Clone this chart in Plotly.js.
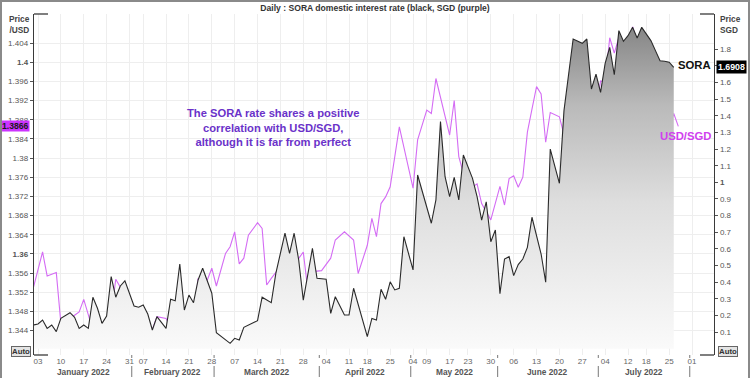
<!DOCTYPE html>
<html><head><meta charset="utf-8">
<script src="https://cdn.plot.ly/plotly-3.0.1.min.js"></script>
<style>
html,body{margin:0;padding:0;background:#fff;}
#wrap{position:relative;width:750px;height:378px;overflow:hidden;}
#chart{width:750px;height:378px;}
#frame{position:absolute;left:0;top:0;width:750px;height:378px;box-sizing:border-box;border-left:2px solid #8a8a8a;border-top:2px solid #8a8a8a;border-right:2px solid #8a8a8a;pointer-events:none;}
</style></head><body>
<div id="wrap"><div id="chart"></div><div id="frame"></div></div>
<script>
// Singapore market holidays (non-trading days skipped on the axis)
const holidays = ['2022-02-01','2022-02-02','2022-04-15','2022-05-02','2022-05-03','2022-05-16','2022-07-11'];

// USD/SGD (left axis, purple)
const usdSgdDates = ['2021-12-31',
'2022-01-04','2022-01-05','2022-01-07','2022-01-10','2022-01-11','2022-01-13','2022-01-14','2022-01-17','2022-01-18','2022-01-19','2022-01-21','2022-01-24','2022-01-25','2022-01-26','2022-01-28','2022-01-31',
'2022-02-03','2022-02-07','2022-02-08','2022-02-10','2022-02-14','2022-02-16','2022-02-17','2022-02-21','2022-02-22','2022-02-23','2022-02-24','2022-02-25','2022-02-28',
'2022-03-01','2022-03-03','2022-03-04','2022-03-07','2022-03-08','2022-03-09','2022-03-10','2022-03-14','2022-03-15','2022-03-16','2022-03-17','2022-03-21','2022-03-22','2022-03-24','2022-03-28','2022-03-29','2022-03-30',
'2022-04-01','2022-04-05','2022-04-06','2022-04-08','2022-04-12','2022-04-13','2022-04-18','2022-04-19','2022-04-20','2022-04-21','2022-04-22','2022-04-25','2022-04-27',
'2022-05-04','2022-05-05','2022-05-09','2022-05-10','2022-05-11','2022-05-17','2022-05-18','2022-05-19','2022-05-23','2022-05-25','2022-05-26','2022-05-30',
'2022-06-01','2022-06-02','2022-06-03','2022-06-06','2022-06-07','2022-06-08','2022-06-09','2022-06-10','2022-06-13','2022-06-14','2022-06-15','2022-06-16','2022-06-20','2022-06-21','2022-06-22','2022-06-23','2022-06-27','2022-06-28','2022-06-29','2022-06-30',
'2022-07-01','2022-07-04','2022-07-05','2022-07-06','2022-07-07','2022-07-08','2022-07-12','2022-07-13','2022-07-14','2022-07-15','2022-07-18','2022-07-19','2022-07-20','2022-07-21','2022-07-25','2022-07-26','2022-07-27'];
const usdSgdValues = [1.3530,
1.3604,1.3554,1.3561,1.3455,1.3458,1.3472,1.3479,1.3505,1.3472,1.3441,1.3453,1.3442,1.3472,1.3547,1.3514,1.3437,
1.3455,1.3441,1.3414,1.3469,1.3465,1.3430,1.3455,1.3456,1.3451,1.3549,1.3531,1.3545,1.3570,
1.3533,1.3601,1.3615,1.3646,1.3579,1.3591,1.3639,1.3665,1.3653,1.3535,1.3549,1.3574,1.3572,1.3577,1.3604,1.3524,1.3563,
1.3565,1.3591,1.3629,1.3646,1.3629,1.3559,1.3618,1.3674,1.3636,1.3705,1.3719,1.3740,1.3865,
1.3737,1.3838,1.3900,1.3893,1.3966,1.3848,1.3920,1.3803,1.3733,1.3746,1.3705,1.3671,
1.3741,1.3702,1.3757,1.3763,1.3739,1.3760,1.3854,1.3902,1.3949,1.3934,1.3833,1.3895,1.3886,1.3849,1.3897,1.3856,1.3857,1.3877,1.3934,1.3899,
1.3961,1.3958,1.4051,1.4019,1.4052,1.3984,1.4017,1.4074,1.4042,1.3998,1.3974,1.3916,1.3930,1.3877,1.3862,1.3893,1.3866];

// SORA (right axis, black with grey area)
const soraDates = ['2021-12-31',
'2022-01-03','2022-01-04','2022-01-05','2022-01-06','2022-01-07','2022-01-10','2022-01-12','2022-01-13','2022-01-14','2022-01-17','2022-01-18','2022-01-19','2022-01-20','2022-01-21','2022-01-24','2022-01-25','2022-01-26','2022-01-27','2022-01-28',
'2022-02-03','2022-02-04','2022-02-07','2022-02-08','2022-02-09','2022-02-10','2022-02-14','2022-02-15','2022-02-16','2022-02-17','2022-02-18','2022-02-21','2022-02-22','2022-02-23','2022-02-24','2022-02-28',
'2022-03-01','2022-03-03','2022-03-04','2022-03-07','2022-03-08','2022-03-09','2022-03-14','2022-03-15','2022-03-17','2022-03-18','2022-03-22','2022-03-23','2022-03-24','2022-03-25','2022-03-28','2022-03-30','2022-03-31',
'2022-04-04','2022-04-05','2022-04-06','2022-04-08','2022-04-11','2022-04-12','2022-04-18','2022-04-19','2022-04-20','2022-04-21','2022-04-22','2022-04-25','2022-04-26','2022-04-27','2022-04-28',
'2022-05-04','2022-05-05','2022-05-10','2022-05-11','2022-05-12','2022-05-13','2022-05-17','2022-05-18','2022-05-19','2022-05-20','2022-05-24','2022-05-25','2022-05-26','2022-05-27','2022-05-30','2022-05-31',
'2022-06-01','2022-06-02','2022-06-03','2022-06-06','2022-06-07','2022-06-08','2022-06-09','2022-06-10','2022-06-14','2022-06-15','2022-06-16','2022-06-20','2022-06-21','2022-06-23','2022-06-27','2022-06-28','2022-06-29','2022-06-30',
'2022-07-01','2022-07-04','2022-07-05','2022-07-06','2022-07-07','2022-07-08','2022-07-12','2022-07-13','2022-07-14','2022-07-15','2022-07-19','2022-07-20','2022-07-21','2022-07-22','2022-07-25','2022-07-26'];
const soraValues = [0.142,
0.148,0.172,0.122,0.142,0.102,0.182,0.216,0.188,0.122,0.142,0.122,0.309,0.243,0.152,0.196,0.433,0.309,0.377,0.408,
0.256,0.249,0.262,0.208,0.112,0.192,0.122,0.297,0.288,0.509,0.232,0.322,0.276,0.413,0.483,0.333,
0.096,0.056,0.032,0.062,0.052,0.128,0.168,0.309,0.276,0.453,0.694,0.573,0.694,0.533,0.292,0.603,0.423,
0.417,0.212,0.312,0.202,0.202,0.363,0.072,0.182,0.172,0.357,0.297,0.402,0.353,0.363,0.673,
0.473,1.044,0.754,0.894,1.365,1.034,0.914,1.030,0.894,1.164,1.024,0.914,0.773,0.883,0.643,0.713,
0.331,0.539,0.553,0.439,0.505,0.539,0.609,0.790,0.569,0.399,1.200,0.994,1.431,1.862,1.836,1.862,1.561,1.651,
1.541,1.716,1.812,1.647,1.912,1.848,1.882,1.932,1.868,1.932,1.852,1.792,1.731,1.728,1.722,1.6908];

const leftTicks = [1.344,1.348,1.352,1.356,1.36,1.364,1.368,1.372,1.376,1.38,1.384,1.388,1.392,1.396,1.4,1.404];
const leftBold = [1.36,1.4];
const leftHidden = [];
const rightTicks = [0.1,0.2,0.3,0.4,0.5,0.6,0.7,0.8,0.9,1,1.1,1.2,1.3,1.4,1.5,1.6,1.7,1.8];
const rightBold = [1];
const rightHidden = [1.7];    // covered by the last-value box
const monthLabels = ['January 2022','February 2022','March 2022','April 2022','May 2022','June 2022','July 2022'];
const annotationText = 'The SORA rate shares a positive<br>correlation with USD/SGD,<br>although it is far from perfect';

// ---- trading-day calendar (weekends + holidays removed) ----
function ymd(d){return d.toISOString().slice(0,10);}
const days=[];
for(let d=new Date(Date.UTC(2021,11,31)); d<=new Date(Date.UTC(2022,7,5)); d.setUTCDate(d.getUTCDate()+1)){
  const w=d.getUTCDay(), s=ymd(d);
  if(w===0||w===6||holidays.includes(s)) continue;
  days.push(s);
}
const origin=days.indexOf('2022-01-03');
const pos = s => days.indexOf(s)-origin;

const X0=-0.875, X1=147.8;
const PX_L=34, PX_R=714, PX_T=14, PX_B=355;
const px2pxX = p => (p-PX_L)/(PX_R-PX_L);
const px2pY = p => (PX_B-p)/(PX_B-PX_T);
const d2pX = v => (v-X0)/(X1-X0);

// weekly ticks: first trading day of each week
const tickvals=[], ticktext=[];
function weekKey(s){const d=new Date(s+'T00:00:00Z');const w=(d.getUTCDay()+6)%7;d.setUTCDate(d.getUTCDate()-w);return ymd(d);}
for(let i=0;i<days.length;i++){
  const p=i-origin; if(p<X0||p>X1) continue;
  if(i===0||weekKey(days[i])!==weekKey(days[i-1])){tickvals.push(p);ticktext.push(days[i].slice(8,10));}
}
// month centers & boundaries
const monthInfo=[];
for(let m=1;m<=7;m++){
  const mm=String(m).padStart(2,'0');
  const ps=days.filter(s=>s.slice(0,7)==='2022-'+mm).map(pos);
  monthInfo.push({first:Math.min(...ps),last:Math.max(...ps)});
}

const usdX=usdSgdDates.map(pos), soraX=soraDates.map(pos);
const fmt = v => String(+v.toFixed(3));
const tickLabel = (v,bold,hidden) => hidden.includes(v) ? '' : (bold.includes(v) ? '<b>'+fmt(v)+'</b>' : fmt(v));

const traces=[
 {x:soraX,y:soraValues,yaxis:'y2',type:'scatter',mode:'lines',
  line:{color:'#2a2a2a',width:1.1},fill:'tozeroy',
  fillgradient:{type:'vertical',start:0,stop:1.95,colorscale:[[0,'rgb(250,250,250)'],[0.45,'rgb(222,222,222)'],[0.75,'rgb(186,186,186)'],[1,'rgb(132,132,132)']]},
  hoverinfo:'skip'},
 {x:usdX,y:usdSgdValues,yaxis:'y',type:'scatter',mode:'lines',
  line:{color:'#d46cf4',width:1.1},hoverinfo:'skip'}
];

const F='Liberation Sans, Arial, sans-serif';
const shapes=[];
const lc='#3a3a3a';
// axis brackets
const stub=14/(PX_R-PX_L);
shapes.push({type:'line',xref:'paper',yref:'paper',x0:0,x1:stub,y0:1,y1:1,line:{color:lc,width:1.3}});
shapes.push({type:'line',xref:'paper',yref:'paper',x0:0,x1:stub,y0:0,y1:0,line:{color:lc,width:1.3}});
shapes.push({type:'line',xref:'paper',yref:'paper',x0:1-stub,x1:1,y0:1,y1:1,line:{color:lc,width:1.3}});
shapes.push({type:'line',xref:'paper',yref:'paper',x0:1-stub,x1:1,y0:0,y1:0,line:{color:lc,width:1.3}});
// month separators
monthInfo.forEach(mi=>{
  const bx=d2pX(mi.last+0.5);
  shapes.push({type:'line',xref:'paper',yref:'paper',x0:bx,x1:bx,y0:px2pY(355),y1:px2pY(358),line:{color:'#777',width:1}});
  shapes.push({type:'line',xref:'paper',yref:'paper',x0:bx,x1:bx,y0:px2pY(366),y1:px2pY(377),line:{color:'#777',width:1}});
});

const annotations=[];
monthInfo.forEach((mi,i)=>{
  annotations.push({xref:'paper',yref:'paper',x:d2pX((mi.first+mi.last)/2),y:px2pY(372),text:'<b>'+monthLabels[i]+'</b>',showarrow:false,xanchor:'center',yanchor:'middle',font:{family:F,size:8.3,color:'#555'}});
});
annotations.push({xref:'paper',yref:'paper',x:px2pxX(273),y:px2pY(127),text:'<b>'+annotationText+'</b>',showarrow:false,xanchor:'center',yanchor:'middle',align:'center',font:{family:F,size:11.2,color:'#6a32c9'}});
const lastSora=soraValues[soraValues.length-1], lastUsd=usdSgdValues[usdSgdValues.length-1];
const lastSoraX=soraX[soraX.length-1], lastUsdX=usdX[usdX.length-1];
annotations.push({xref:'x',yref:'y2',x:lastSoraX,y:lastSora,text:'<b>SORA</b>',showarrow:false,xanchor:'left',yanchor:'middle',xshift:2,yshift:2,font:{family:F,size:11.3,color:'#111'}});
annotations.push({xref:'x',yref:'y',x:lastUsdX,y:lastUsd,text:'<b>USD/SGD</b>',showarrow:false,xanchor:'center',yanchor:'middle',xshift:7,yshift:-10,font:{family:F,size:11.3,color:'#d040ee'}});
// last value boxes
annotations.push({xref:'paper',yref:'y',x:px2pxX(1),y:lastUsd,text:'<b>'+lastUsd.toFixed(4)+'</b>',showarrow:false,xanchor:'left',yanchor:'middle',bgcolor:'#cc33ff',borderpad:0,font:{family:F,size:8.6,color:'#1a1a1a'}});
annotations.push({xref:'paper',yref:'y2',x:px2pxX(716),y:lastSora,text:'<b>'+lastSora.toFixed(4)+'</b>',showarrow:false,xanchor:'left',yanchor:'middle',bgcolor:'#000000',borderpad:1,font:{family:F,size:8.8,color:'#ffffff'}});
// axis captions
annotations.push({xref:'paper',yref:'paper',x:px2pxX(32),y:px2pY(25),text:'<b>Price<br>/USD</b>',showarrow:false,xanchor:'right',yanchor:'middle',align:'right',font:{family:F,size:8.3,color:'#444'}});
annotations.push({xref:'paper',yref:'paper',x:px2pxX(718),y:px2pY(25),text:'<b>Price<br>SGD</b>',showarrow:false,xanchor:'left',yanchor:'middle',align:'left',font:{family:F,size:8.3,color:'#444'}});
// Auto boxes
annotations.push({xref:'paper',yref:'paper',x:px2pxX(31),y:px2pY(351),text:'<b>Auto</b>',showarrow:false,xanchor:'right',yanchor:'middle',bgcolor:'#e4e4e4',bordercolor:'#666',borderwidth:1,borderpad:0,font:{family:F,size:7.8,color:'#333'}});
annotations.push({xref:'paper',yref:'paper',x:px2pxX(718),y:px2pY(351),text:'<b>Auto</b>',showarrow:false,xanchor:'left',yanchor:'middle',bgcolor:'#e4e4e4',bordercolor:'#666',borderwidth:1,borderpad:0,font:{family:F,size:7.8,color:'#333'}});

const layout={
 width:750,height:378,
 margin:{l:PX_L,r:750-PX_R,t:PX_T,b:378-PX_B,pad:0},
 paper_bgcolor:'#ffffff',plot_bgcolor:'#ffffff',showlegend:false,
 title:{text:'<b>Daily : SORA domestic interest rate (black, SGD (purple)</b>',font:{family:F,size:8.6,color:'#333'},x:0.5,xref:'container',xanchor:'center',y:1-7.5/378,yref:'container',yanchor:'middle'},
 xaxis:{range:[X0,X1],tickmode:'array',tickvals:tickvals,ticktext:ticktext,showgrid:true,gridcolor:'#eeeeee',gridwidth:1,zeroline:false,showline:false,ticks:'',tickfont:{family:F,size:8,color:'#666'},fixedrange:true},
 yaxis:{range:[1.3389,1.41006],tickmode:'array',tickvals:leftTicks,ticktext:leftTicks.map(v=>tickLabel(v,leftBold,leftHidden)),
   showgrid:true,gridcolor:'#eeeeee',gridwidth:1,zeroline:false,showline:true,linecolor:lc,linewidth:1.3,ticks:'outside',ticklen:3,tickcolor:'#555',tickfont:{family:F,size:8,color:'#555'},fixedrange:true},
 yaxis2:{overlaying:'y',side:'right',range:[-0.0383,2.0122],tickmode:'array',tickvals:rightTicks,ticktext:rightTicks.map(v=>tickLabel(v,rightBold,rightHidden)),
   showgrid:false,zeroline:false,showline:true,linecolor:lc,linewidth:1.3,ticks:'outside',ticklen:3,tickcolor:'#555',tickfont:{family:F,size:8,color:'#555'},fixedrange:true},
 shapes:shapes,annotations:annotations
};
Plotly.newPlot('chart',traces,layout,{displayModeBar:false,staticPlot:true});
</script>
</body></html>
